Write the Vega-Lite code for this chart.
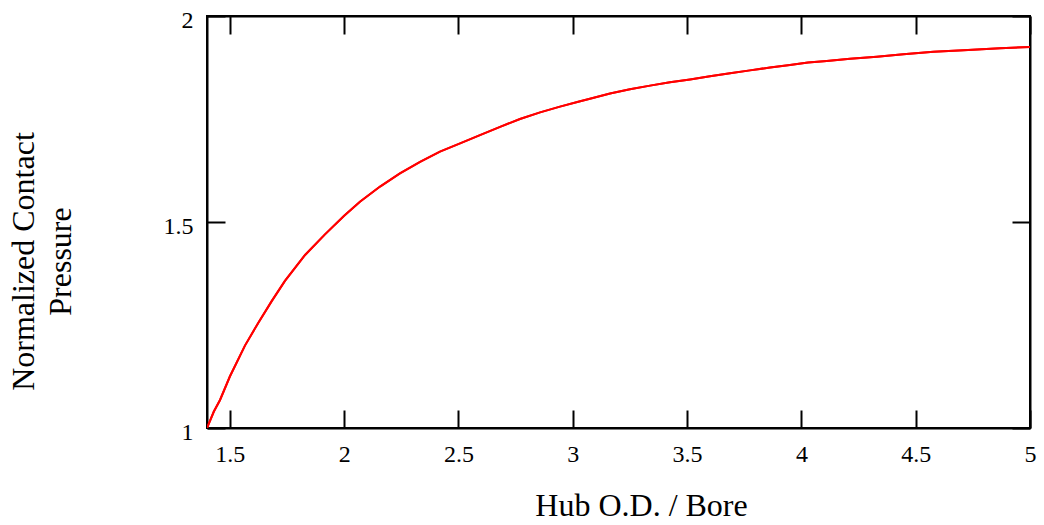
{
  "$schema": "https://vega.github.io/schema/vega-lite/v6.json",
  "width": 823,
  "height": 412,
  "autosize": {"type": "none"},
  "padding": {"left": 207, "top": 16, "right": 14, "bottom": 97},
  "background": "white",
  "config": {
    "view": {"stroke": "black", "strokeWidth": 2},
    "font": "Liberation Serif",
    "axis": {
      "grid": false,
      "domainColor": "black",
      "domainWidth": 2,
      "tickColor": "black",
      "tickWidth": 2,
      "tickSize": -18,
      "labelFont": "Liberation Serif",
      "labelFontSize": 24,
      "labelColor": "black",
      "titleFont": "Liberation Serif",
      "titleFontSize": 32,
      "titleFontWeight": "normal",
      "titleColor": "black"
    }
  },
  "data": {
    "values": [
      {"k": 1.400, "p": 1.000},
      {"k": 1.430, "p": 1.040},
      {"k": 1.457, "p": 1.068},
      {"k": 1.500, "p": 1.125},
      {"k": 1.566, "p": 1.200},
      {"k": 1.624, "p": 1.255},
      {"k": 1.683, "p": 1.308},
      {"k": 1.741, "p": 1.357},
      {"k": 1.829, "p": 1.420},
      {"k": 1.916, "p": 1.470},
      {"k": 2.000, "p": 1.515},
      {"k": 2.069, "p": 1.549},
      {"k": 2.157, "p": 1.586},
      {"k": 2.244, "p": 1.618},
      {"k": 2.332, "p": 1.646},
      {"k": 2.419, "p": 1.671},
      {"k": 2.507, "p": 1.691},
      {"k": 2.594, "p": 1.711},
      {"k": 2.682, "p": 1.731},
      {"k": 2.769, "p": 1.750},
      {"k": 2.857, "p": 1.766},
      {"k": 2.944, "p": 1.780},
      {"k": 3.024, "p": 1.792},
      {"k": 3.075, "p": 1.799},
      {"k": 3.163, "p": 1.812},
      {"k": 3.250, "p": 1.822},
      {"k": 3.338, "p": 1.831},
      {"k": 3.425, "p": 1.839},
      {"k": 3.513, "p": 1.846},
      {"k": 3.600, "p": 1.854},
      {"k": 3.688, "p": 1.861},
      {"k": 3.775, "p": 1.868},
      {"k": 3.863, "p": 1.875},
      {"k": 3.950, "p": 1.881},
      {"k": 4.029, "p": 1.887},
      {"k": 4.111, "p": 1.891},
      {"k": 4.213, "p": 1.896},
      {"k": 4.330, "p": 1.901},
      {"k": 4.446, "p": 1.907},
      {"k": 4.578, "p": 1.913},
      {"k": 4.709, "p": 1.917},
      {"k": 4.869, "p": 1.922},
      {"k": 5.000, "p": 1.925}
    ]
  },
  "layer": [
    {
      "mark": {"type": "line", "color": "#ff0000", "strokeWidth": 2, "clip": true},
      "encoding": {
        "x": {
          "field": "k", "type": "quantitative",
          "scale": {"domain": [1.4, 5], "nice": false, "zero": false},
          "axis": {
            "orient": "bottom",
            "values": [1.5, 2, 2.5, 3, 3.5, 4, 4.5, 5],
            "format": ".1~f",
            "labelPadding": 32,
            "labelFlush": false,
            "title": "Hub O.D. / Bore",
            "titleX": 434,
            "titleY": 87,
            "titleBaseline": "alphabetic",
            "titleAnchor": "middle",
            "titleAlign": "center"
          }
        },
        "y": {
          "field": "p", "type": "quantitative",
          "scale": {"domain": [1, 2], "nice": false, "zero": false},
          "axis": {
            "orient": "left",
            "values": [1, 1.5, 2],
            "format": ".1~f",
            "labelPadding": 32,
            "labelOffset": 4,
            "labelFlush": false,
            "title": ["Normalized Contact", "Pressure"],
            "titleAngle": -90,
            "titleX": -174,
            "titleY": 245,
            "titleAlign": "center",
            "titleBaseline": "alphabetic",
            "titleLineHeight": 37
          }
        }
      }
    },
    {
      "mark": {"type": "line", "color": "#ff0000", "strokeWidth": 2, "clip": true},
      "encoding": {
        "x": {
          "field": "k", "type": "quantitative",
          "scale": {"domain": [1.4, 5], "nice": false, "zero": false},
          "axis": {"orient": "top", "values": [1.5, 2, 2.5, 3, 3.5, 4, 4.5, 5], "labels": false, "title": null}
        },
        "y": {
          "field": "p", "type": "quantitative",
          "scale": {"domain": [1, 2], "nice": false, "zero": false},
          "axis": {"orient": "right", "values": [1, 1.5, 2], "labels": false, "title": null}
        }
      }
    }
  ],
  "resolve": {"axis": {"x": "independent", "y": "independent"}}
}
